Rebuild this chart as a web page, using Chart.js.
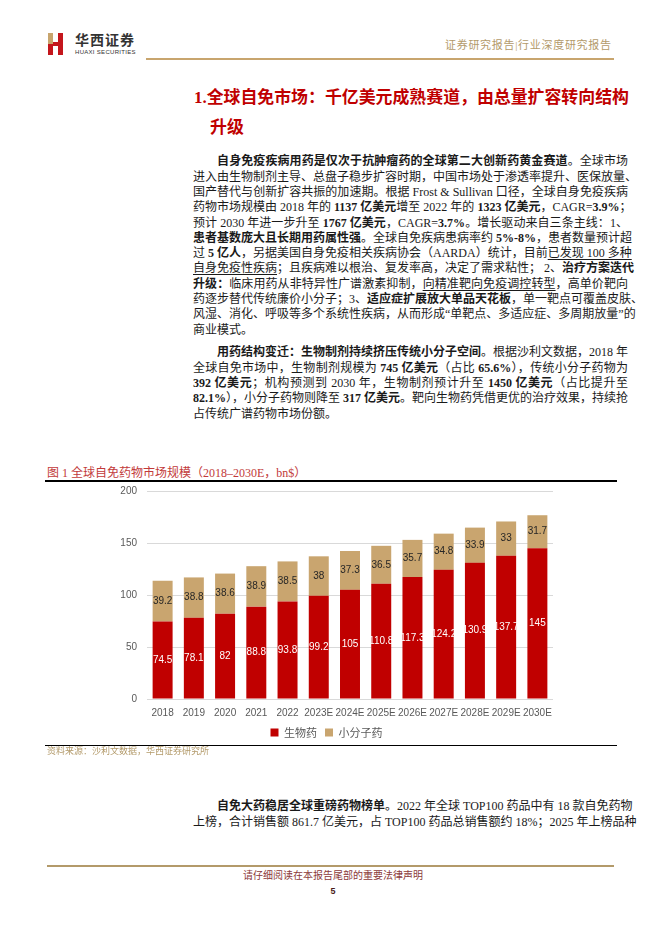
<!DOCTYPE html>
<html>
<head>
<meta charset="utf-8">
<script src="https://cdn.jsdelivr.net/npm/chart.js@4.4.1/dist/chart.umd.min.js"></script>
<style>
  body { margin: 0; background: #fff; }
  #page { position: relative; width: 662px; height: 936px; overflow: hidden; background: #fff;
          font-family: "Liberation Serif", "Noto Sans CJK SC", serif; color: #1a1a1a; }
  .abs { position: absolute; }
  .para { position: absolute; left: 193px; width: 435px; font-size: 12px; line-height: 15.3px; }
  .para div { text-align: justify; text-align-last: justify; white-space: nowrap; }
  .para div.last { text-align-last: left; }
  .para b { font-weight: bold; }
  .ul { text-decoration: underline; text-underline-offset: 2px; }
</style>
</head>
<body>
<div id="page">
  <!-- header -->
  <div class="abs" style="left:48px;top:33px;width:5px;height:11px;background:#c8a56e"></div>
  <div class="abs" style="left:48px;top:44px;width:5px;height:11px;background:#c4161c"></div>
  <div class="abs" style="left:53px;top:42px;width:5px;height:4px;background:#c4161c"></div>
  <div class="abs" style="left:58px;top:33px;width:5px;height:22px;background:#c4161c"></div>
  <div class="abs" style="left:75px;top:33px;font-size:14px;line-height:16px;font-weight:bold;color:#333;letter-spacing:1px">华西证券</div>
  <div class="abs" style="left:75px;top:49px;font-family:'Liberation Sans';font-size:6px;line-height:7px;color:#333;letter-spacing:0.3px">HUAXI SECURITIES</div>
  <div class="abs" style="left:445px;top:38px;font-size:11px;line-height:14px;color:#b39a6a;white-space:nowrap;letter-spacing:0.7px">证券研究报告|行业深度研究报告</div>
  <div class="abs" style="left:146px;top:58px;width:468px;height:2px;background:#c8a56e"></div>

  <!-- heading -->
  <div class="abs" style="left:194px;top:87px;font-size:16.9px;line-height:22px;font-weight:bold;color:#c00000;white-space:nowrap">1.全球自免市场：千亿美元成熟赛道，由总量扩容转向结构</div>
  <div class="abs" style="left:210px;top:117px;font-size:16.9px;line-height:22px;font-weight:bold;color:#c00000">升级</div>

  <!-- paragraph 1 -->
  <div class="para" style="top:154.4px">
    <div>&emsp;&emsp;<b>自身免疫疾病用药是仅次于抗肿瘤药的全球第二大创新药黄金赛道</b>。全球市场</div>
    <div>进入由生物制剂主导、总盘子稳步扩容时期，中国市场处于渗透率提升、医保放量、</div>
    <div>国产替代与创新扩容共振的加速期。根据 Frost &amp; Sullivan 口径，全球自身免疫疾病</div>
    <div>药物市场规模由 2018 年的 <b>1137 亿美元</b>增至 2022 年的 <b>1323 亿美元</b>，CAGR=<b>3.9%</b>；</div>
    <div>预计 2030 年进一步升至 <b>1767 亿美元</b>，CAGR=<b>3.7%</b>。增长驱动来自三条主线：1、</div>
    <div><b>患者基数庞大且长期用药属性强</b>。全球自免疾病患病率约 <b>5%-8%</b>，患者数量预计超</div>
    <div>过 <b>5 亿人</b>，另据美国自身免疫相关疾病协会（AARDA）统计，目前<span class="ul">已发现 100 多种</span></div>
    <div><span class="ul">自身免疫性疾病</span>；且疾病难以根治、复发率高，决定了需求粘性； 2、<b>治疗方案迭代</b></div>
    <div><b>升级：</b>临床用药从非特异性广谱激素抑制，<span class="ul">向精准靶向免疫调控转型</span>，高单价靶向</div>
    <div>药逐步替代传统廉价小分子；3、<b>适应症扩展放大单品天花板</b>，单一靶点可覆盖皮肤、</div>
    <div>风湿、消化、呼吸等多个系统性疾病，从而形成“单靶点、多适应症、多周期放量”的</div>
    <div class="last">商业模式。</div>
  </div>

  <!-- paragraph 2 -->
  <div class="para" style="top:345.4px">
    <div>&emsp;&emsp;<b>用药结构变迁：生物制剂持续挤压传统小分子空间</b>。根据沙利文数据，2018 年</div>
    <div>全球自免市场中，生物制剂规模为 <b>745 亿美元</b>（占比 <b>65.6%</b>），传统小分子药物为</div>
    <div><b>392 亿美元</b>；机构预测到 2030 年，生物制剂预计升至 <b>1450 亿美元</b>（占比提升至</div>
    <div><b>82.1%</b>），小分子药物则降至 <b>317 亿美元</b>。靶向生物药凭借更优的治疗效果，持续抢</div>
    <div class="last">占传统广谱药物市场份额。</div>
  </div>

  <!-- figure -->
  <div class="abs" style="left:47px;top:465px;font-size:12px;line-height:16px;color:#c23a3a;white-space:nowrap">图 1 全球自免药物市场规模（2018–2030E，bn$）</div>
  <div class="abs" style="left:45px;top:480px;width:572px;height:2px;background:#000"></div>
  <canvas id="chart" class="abs" width="460" height="273" style="left:100px;top:475px;width:460px;height:273px"></canvas>
  <div class="abs" style="left:45px;top:745px;width:572px;height:1px;background:#000"></div>
  <div class="abs" style="left:47px;top:746px;font-size:9px;line-height:11px;color:#b39a6a;white-space:nowrap">资料来源：沙利文数据，华西证券研究所</div>

  <!-- paragraph 3 -->
  <div class="para" style="top:799.4px">
    <div>&emsp;&emsp;<b>自免大药稳居全球重磅药物榜单</b>。2022 年全球 TOP100 药品中有 18 款自免药物</div>
    <div>上榜，合计销售额 861.7 亿美元，占 TOP100 药品总销售额约 18%；2025 年上榜品种</div>
  </div>

  <!-- footer -->
  <div class="abs" style="left:47px;top:865px;width:567px;height:2px;background:#b39a6a"></div>
  <div class="abs" style="left:0;width:666px;top:869px;text-align:center;font-size:10px;line-height:13px;color:#8b3a3a">请仔细阅读在本报告尾部的重要法律声明</div>
  <div class="abs" style="left:0;width:666px;top:885px;text-align:center;font-family:'Liberation Sans';font-size:9px;line-height:12px;font-weight:bold;color:#4a1a1a">5</div>
</div>

<script>
var years = ['2018', '2019', '2020', '2021', '2022', '2023E', '2024E', '2025E', '2026E', '2027E', '2028E', '2029E', '2030E'];
var biologics = [74.5, 78.1, 82, 88.8, 93.8, 99.2, 105, 110.8, 117.3, 124.2, 130.9, 137.7, 145];
var smallMolecule = [39.2, 38.8, 38.6, 38.9, 38.5, 38, 37.3, 36.5, 35.7, 34.8, 33.9, 33, 31.7];
var seriesNames = ['生物药', '小分子药'];
var yTicks = [0, 50, 100, 150, 200];

// value labels in the middle of each bar segment
var barLabels = {
    id: 'barLabels',
    afterDatasetsDraw: function (chart) {
        var ctx = chart.ctx;
        ctx.save();
        ctx.font = '10px "Liberation Sans"';
        ctx.textAlign = 'center';
        ctx.textBaseline = 'middle';
        chart.data.datasets.forEach(function (ds, i) {
            ctx.fillStyle = i === 0 ? '#ffffff' : '#262626';
            chart.getDatasetMeta(i).data.forEach(function (bar, j) {
                ctx.fillText(String(ds.data[j]), bar.x, (bar.y + bar.base) / 2);
            });
        });
        ctx.restore();
    }
};

var ctx = document.getElementById('chart');
var myChart = new Chart(ctx, {
    type: 'bar',
    data: {
        labels: years,
        datasets: [
            {
                label: seriesNames[0],
                data: biologics,
                backgroundColor: '#c00000',
                barPercentage: 0.64,
                categoryPercentage: 1
            },
            {
                label: seriesNames[1],
                data: smallMolecule,
                backgroundColor: '#c9a56f',
                barPercentage: 0.64,
                categoryPercentage: 1
            }
        ]
    },
    options: {
        responsive: false,
        animation: false,
        layout: { padding: { top: 1, right: 7, left: 0, bottom: 0 } },
        scales: {
            x: {
                stacked: true,
                grid: { display: false },
                border: { display: false },
                ticks: {
                    color: '#595959',
                    font: { family: 'Liberation Sans', size: 10 },
                    maxRotation: 0,
                    autoSkip: false,
                    padding: 0
                },
                afterFit: function (s) { s.height = 20; }
            },
            y: {
                stacked: true,
                min: yTicks[0],
                max: yTicks[yTicks.length - 1],
                afterBuildTicks: function (s) {
                    s.ticks = yTicks.map(function (v) { return { value: v }; });
                },
                grid: { color: '#d9d9d9', drawTicks: false },
                border: { display: false },
                ticks: {
                    color: '#595959',
                    font: { family: 'Liberation Sans', size: 10 },
                    padding: 10
                },
                afterFit: function (s) { s.width = 47; }
            }
        },
        plugins: {
            legend: {
                position: 'bottom',
                labels: {
                    boxWidth: 8,
                    boxHeight: 8,
                    padding: 8,
                    color: '#595959',
                    font: { family: 'Noto Sans CJK SC', size: 11 }
                }
            },
            tooltip: { enabled: false }
        }
    },
    plugins: [barLabels]
});
</script>
</body>
</html>
